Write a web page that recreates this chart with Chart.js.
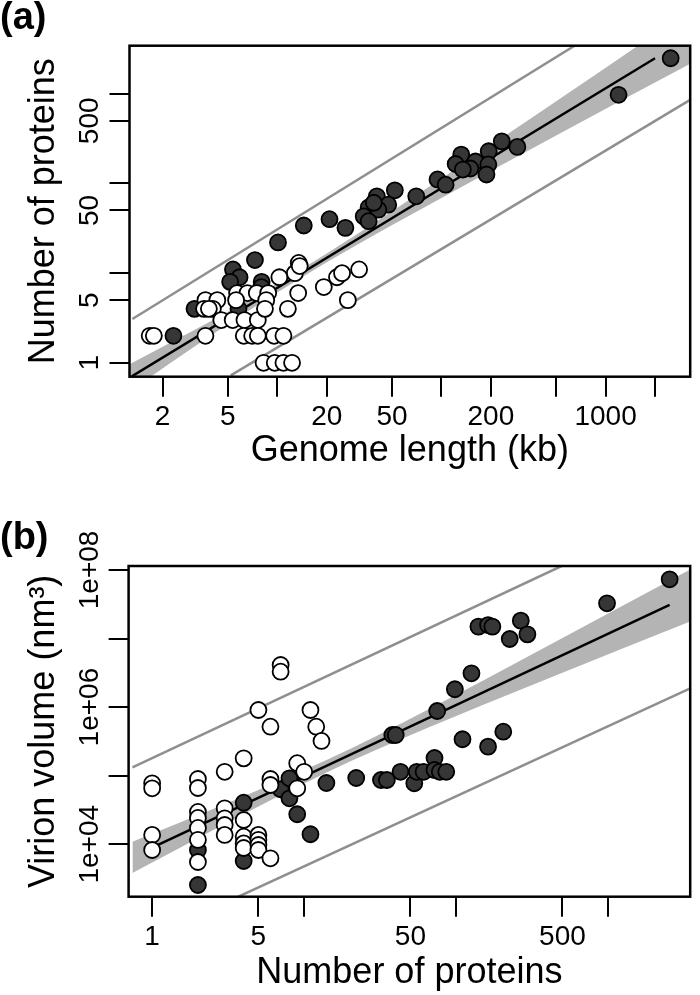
<!DOCTYPE html>
<html>
<head>
<meta charset="utf-8">
<title>Number of proteins vs genome length / virion volume</title>
<script src="https://cdn.jsdelivr.net/npm/chart.js@4.4.1/dist/chart.umd.min.js"></script>
<style>
  html, body { margin: 0; padding: 0; background: #fff; }
  #wrap { position: relative; width: 700px; height: 995px; }
  canvas { position: absolute; left: 0; }
  #chartA { top: 0; }
  #chartB { top: 480px; }
</style>
</head>
<body>
<div id="wrap">
  <canvas id="chartA" width="700" height="480"></canvas>
  <canvas id="chartB" width="700" height="515"></canvas>
</div>
<script>
// ---- panel (a): genome length (kb) vs number of proteins ----
const aDarkX = [2490, 1199, 233, 290, 194, 132, 122, 161, 150, 135, 193, 188, 94.6, 106, 70.2,
  40.4, 52, 36, 47.4, 41.3, 33.6, 36, 38.7, 26, 20.8, 14.5, 10.1, 7.31, 5.37, 5.89, 5.16, 8.03, 8.0,
  3.13, 2.33, 5.8];
const aDarkY = [2494, 975, 295, 256, 229, 210, 165, 176, 147, 143, 163, 126, 111, 97, 72,
  72, 84, 54, 58, 51, 43, 38, 61, 32, 40, 34, 22, 14, 11, 9, 8, 8, 7,
  4, 2, 4];
const aOpenX = [1.67, 1.77, 3.65, 3.65, 4.31, 4.05, 3.58, 3.83, 4.56, 5.35, 5.69, 6.58, 7.5, 8.8,
  8.56, 5.61, 6.31, 7.61, 8.41, 6.25, 7.03, 7.61, 9.56, 10.9, 8.25, 9.65, 10.9, 12.3, 10.3, 12.8,
  13.5, 13.7, 13.4, 11.6, 19.2, 23.1, 24.8, 31.5, 26.9];
const aOpenY = [2, 2, 2, 5, 5, 4, 4, 4, 3, 3, 6, 6, 6, 6,
  5, 5, 3, 3, 4, 2, 2, 2, 2, 2, 1, 1, 1, 1, 9, 10,
  13, 12, 6, 4, 7, 9, 10, 11, 5];

const aFitX = [1.3, 2000];
const aFitY = [0.707, 2494];
const aBandX = [1.26, 5, 20, 100, 500, 3300];
const aBandLo = [0.483, 2.69, 13.2, 68.9, 344, 2181];
const aBandHi = [0.964, 3.72, 16.6, 114, 825, 8680];
const aUpperX = [1.31, 647];
const aUpperY = [3.08, 3443];
const aLowerX = [5.21, 3273];
const aLowerY = [0.723, 857];

const aXTicks = [2, 5, 10, 20, 50, 100, 200, 500, 1000, 2000];
const aXLabels = ['2', '5', '', '20', '50', '', '200', '', '1000', ''];
const aYTicks = [1, 5, 10, 50, 100, 500, 1000];
const aYLabels = ['1', '5', '', '50', '', '500', ''];

// ---- panel (b): number of proteins vs virion volume (nm3) ----
const bDarkX = [2, 2, 4, 4, 7, 8, 8, 9, 11, 14, 22, 32, 35, 43, 53, 55, 61, 72, 72, 78, 86,
  75, 38, 40, 98, 126, 110, 162, 204, 140, 162, 173, 266, 225, 294, 982, 2535];
const bDarkY = [8260, 2550, 40400, 5710, 63400, 91700, 46800, 27400, 14000, 78300, 92600, 86500,
  86500, 114000, 77400, 114000, 114000, 181000, 121000, 114000, 114000,
  877000, 392000, 392000, 1820000, 3110000, 340000, 265000, 438000,
  14900000, 15700000, 14900000, 18200000, 9840000, 11500000, 32600000, 73000000];
const bOpenX = [1, 1, 1, 1, 2, 2, 2, 2, 2, 2, 2, 3, 3, 3, 3, 3, 4, 4, 4, 4, 4,
  5, 5, 5, 5, 5, 6, 6, 6, 6, 7, 7, 9, 9, 10, 11, 12, 13];
const bOpenY = [77400, 65500, 13700, 8260, 89500, 66200, 29600, 24200, 17300, 11600, 5520,
  114000, 33500, 23900, 19100, 13700, 179000, 22600, 12900, 10300, 8830,
  907000, 13700, 11600, 9770, 8260, 518000, 89500, 73200, 6250, 4110000, 3280000,
  152000, 65500, 114000, 907000, 518000, 321000];

const bFitX = [1, 2535];
const bFitY = [8913, 30800000];
const bBandX = [0.742, 1, 5, 20, 100, 500, 3461];
const bBandLo = [3811, 5433, 35650, 161000, 743000, 3170000, 17700000];
const bBandHi = [10890, 14220, 61940, 244900, 1517000, 10160000, 101600000];
const bUpperX = [0.742, 493];
const bUpperY = [132400, 114000000];
const bLowerX = [3.69, 3461];
const bLowerY = [1722, 1880000];

const bXTicks = [1, 5, 10, 50, 100, 500, 1000];
const bXLabels = ['1', '5', '', '50', '', '500', ''];
const bYTicks = [1e4, 1e5, 1e6, 1e7, 1e8];
const bYLabels = ['1e+04', '', '1e+06', '', '1e+08'];

const FONT = "'Liberation Sans', Arial, Helvetica, sans-serif";

function pts(xs, ys) {
    return xs.map((x, i) => ({ x: x, y: ys[i] }));
}

// draws the closed box round the plot region, like R's box()
const boxPlugin = {
    id: 'plotBox',
    afterDatasetsDraw(chart) {
        const { ctx, chartArea } = chart;
        ctx.save();
        ctx.strokeStyle = '#000';
        ctx.lineWidth = 2.5;
        ctx.strokeRect(chartArea.left, chartArea.top,
            chartArea.right - chartArea.left, chartArea.bottom - chartArea.top);
        ctx.restore();
    }
};

function logScale(o) {
    return {
        type: 'logarithmic',
        position: o.position,
        min: o.min,
        max: o.max,
        afterBuildTicks: scale => {
            scale.ticks = o.ticks.map(v => ({ value: v }));
        },
        afterFit: scale => {
            if (o.position === 'left') scale.width = o.size;
            else scale.height = o.size;
        },
        ticks: {
            autoSkip: false,
            minRotation: o.rotation,
            maxRotation: o.rotation,
            padding: o.labelPad,
            crossAlign: o.position === 'left' ? 'center' : 'near',
            color: '#000',
            font: { family: FONT, size: 28 },
            callback: (value, i) => o.labels[i]
        },
        grid: {
            drawOnChartArea: false,
            drawTicks: true,
            tickLength: 20,
            color: '#000',
            lineWidth: 2
        },
        border: { display: false },
        title: {
            display: true,
            text: o.title,
            color: '#000',
            font: { family: FONT, size: 36 },
            padding: o.titlePad
        }
    };
}

function makePanel(canvasId, p) {
    const datasets = [
        {
            label: 'open', data: pts(p.openX, p.openY), order: 0,
            backgroundColor: '#fff', borderColor: '#000', borderWidth: 1.8, pointRadius: 8
        },
        {
            label: 'filled', data: pts(p.darkX, p.darkY), order: 1,
            backgroundColor: '#363636', borderColor: '#000', borderWidth: 1.8, pointRadius: 8
        },
        {
            type: 'line', label: 'fit', data: pts(p.fitX, p.fitY), order: 2,
            borderColor: '#000', borderWidth: 2.5, pointRadius: 0, fill: false, tension: 0
        },
        {
            type: 'line', label: 'upper', data: pts(p.upperX, p.upperY), order: 3,
            borderColor: '#8f8f8f', borderWidth: 2.5, pointRadius: 0, fill: false, tension: 0
        },
        {
            type: 'line', label: 'lower', data: pts(p.lowerX, p.lowerY), order: 3,
            borderColor: '#8f8f8f', borderWidth: 2.5, pointRadius: 0, fill: false, tension: 0
        },
        {
            type: 'line', label: 'ci high', data: pts(p.bandX, p.bandHi), order: 4,
            borderWidth: 0, pointRadius: 0, fill: '+1', backgroundColor: '#b4b4b4',
            cubicInterpolationMode: 'monotone'
        },
        {
            type: 'line', label: 'ci low', data: pts(p.bandX, p.bandLo), order: 5,
            borderWidth: 0, pointRadius: 0, fill: false,
            cubicInterpolationMode: 'monotone'
        }
    ];

    return new Chart(document.getElementById(canvasId), {
        type: 'scatter',
        data: { datasets: datasets },
        options: {
            responsive: false,
            animation: false,
            devicePixelRatio: 1,
            layout: { padding: { left: 0, right: 2.7, top: 0, bottom: 0 } },
            plugins: {
                legend: { display: false },
                tooltip: { enabled: false },
                title: {
                    display: true,
                    text: p.panel,
                    align: 'start',
                    color: '#000',
                    font: { family: FONT, size: 38, weight: 'bold', lineHeight: 1 },
                    padding: p.panelPad
                }
            },
            scales: {
                x: logScale(p.x),
                y: logScale(p.y)
            }
        },
        plugins: [boxPlugin]
    });
}

makePanel('chartA', {
    panel: '(a)',
    panelPad: { top: 0, bottom: 7.7 },
    openX: aOpenX, openY: aOpenY, darkX: aDarkX, darkY: aDarkY,
    fitX: aFitX, fitY: aFitY,
    upperX: aUpperX, upperY: aUpperY, lowerX: aLowerX, lowerY: aLowerY,
    bandX: aBandX, bandLo: aBandLo, bandHi: aBandHi,
    x: {
        position: 'bottom', min: 1.258, max: 3275, ticks: aXTicks, labels: aXLabels,
        rotation: 0, labelPad: 3.5, size: 103.3,
        title: 'Genome length (kb)', titlePad: { top: 0, bottom: 7.4 }
    },
    y: {
        position: 'left', min: 0.723, max: 3443, ticks: aYTicks, labels: aYLabels,
        rotation: 90, labelPad: -4.2, size: 129.5,
        title: 'Number of proteins', titlePad: { top: 22.7, bottom: 0 }
    }
});

makePanel('chartB', {
    panel: '(b)',
    panelPad: { top: 39.8, bottom: 8.2 },
    openX: bOpenX, openY: bOpenY, darkX: bDarkX, darkY: bDarkY,
    fitX: bFitX, fitY: bFitY,
    upperX: bUpperX, upperY: bUpperY, lowerX: bLowerX, lowerY: bLowerY,
    bandX: bBandX, bandLo: bBandLo, bandHi: bBandHi,
    x: {
        position: 'bottom', min: 0.742, max: 3461, ticks: bXTicks, labels: bXLabels,
        rotation: 0, labelPad: 3.5, size: 98.3,
        title: 'Number of proteins', titlePad: { top: 0, bottom: 0.1 }
    },
    y: {
        position: 'left', min: 1722, max: 114000000, ticks: bYTicks, labels: bYLabels,
        rotation: 90, labelPad: -20.6, size: 128.6,
        title: 'Virion volume (nm³)', titlePad: { top: 22.7, bottom: 0 }
    }
});
</script>
</body>
</html>
